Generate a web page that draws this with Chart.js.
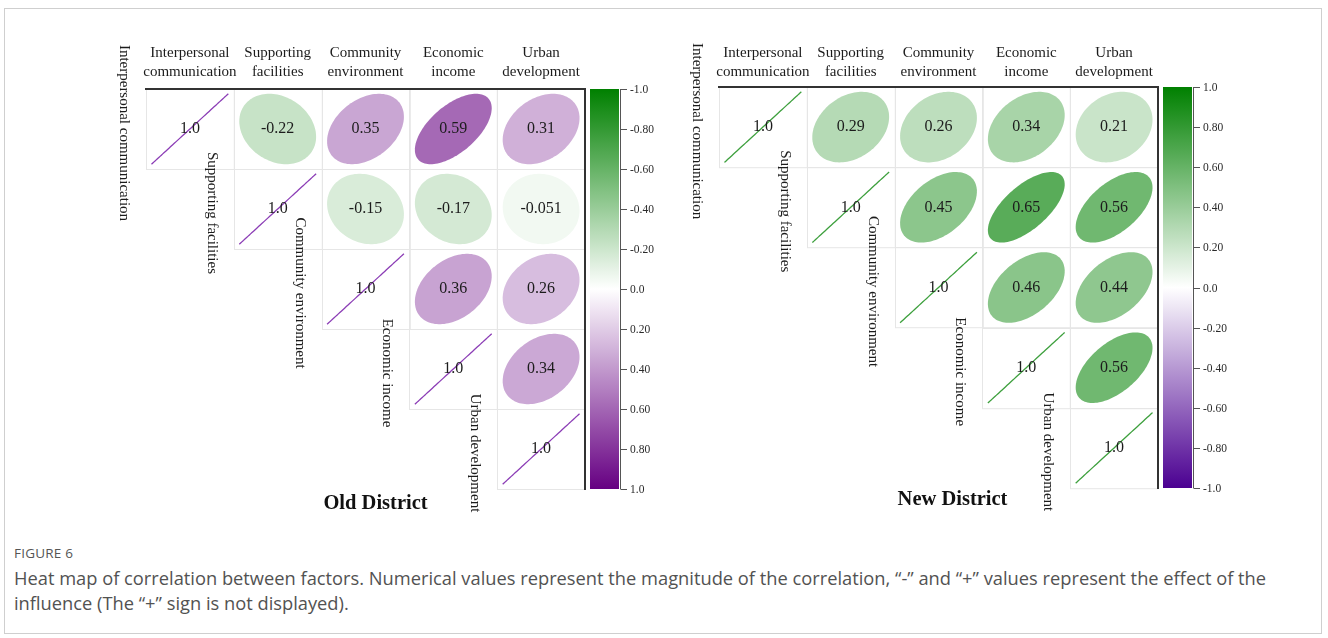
<!DOCTYPE html>
<html>
<head>
<meta charset="utf-8">
<script src="https://cdn.jsdelivr.net/npm/chart.js@4/dist/chart.umd.min.js"></script>
<style>
  html, body { margin: 0; padding: 0; background: #fff; }
  #page { position: relative; width: 1328px; height: 638px; overflow: hidden; background: #fff; }
  #frame { position: absolute; left: 4px; top: 8px; width: 1318px; height: 626px; border: 1px solid #cfcfcf; box-sizing: border-box; }
  canvas { position: absolute; top: 0; }
  #cvOld { left: 0; }
  #cvNew { left: 664px; }
  #figLabel { position: absolute; left: 14px; top: 544px; font-family: "Open Sans", "Noto Sans", sans-serif; font-size: 13.5px; color: #555; letter-spacing: 0.2px; }
  #caption { position: absolute; left: 14px; top: 565px; width: 1310px; white-space: nowrap; font-family: "Open Sans", "Noto Sans", sans-serif; font-size: 18.3px; line-height: 25px; color: #525252; }
</style>
</head>
<body>
<div id="page">
  <div id="frame"></div>
  <canvas id="cvOld" width="664" height="530"></canvas>
  <canvas id="cvNew" width="664" height="530"></canvas>
  <div id="figLabel">FIGURE 6</div>
  <div id="caption">Heat map of correlation between factors. Numerical values represent the magnitude of the correlation, “-” and “+” values represent the effect of the<br>influence (The “+” sign is not displayed).</div>
</div>
<script>
// Factor names (row labels) and the two-line column headers
const factors = ["Interpersonal communication", "Supporting facilities", "Community environment", "Economic income", "Urban development"];
const columnHeaders = [["Interpersonal", "communication"], ["Supporting", "facilities"], ["Community", "environment"], ["Economic", "income"], ["Urban", "development"]];

// Upper-triangle correlations, each row starts at the diagonal
const oldDistrict = [
  [1.0, -0.22, 0.35, 0.59, 0.31],
  [1.0, -0.15, -0.17, -0.051],
  [1.0, 0.36, 0.26],
  [1.0, 0.34],
  [1.0]
];
const newDistrict = [
  [1.0, 0.29, 0.26, 0.34, 0.21],
  [1.0, 0.45, 0.65, 0.56],
  [1.0, 0.46, 0.44],
  [1.0, 0.56],
  [1.0]
];

// Colour bar ticks
const colorbarTicks = [-1.0, -0.8, -0.6, -0.4, -0.2, 0.0, 0.2, 0.4, 0.6, 0.8, 1.0];
const colorbarLabels = ["-1.0", "-0.80", "-0.60", "-0.40", "-0.20", "0.0", "0.20", "0.40", "0.60", "0.80", "1.0"];

const SERIF = '"Liberation Serif", "Times New Roman", serif';

function toPoints(rows) {
  const pts = [];
  rows.forEach((row, i) => row.forEach((v, k) => pts.push({ x: i + k, y: i, v: v })));
  return pts;
}

function mix(end, t) {
  const c = end.map(e => Math.round(255 + (e - 255) * t));
  return `rgb(${c[0]},${c[1]},${c[2]})`;
}

function fmt(v) {
  return Math.abs(v) === 1 ? v.toFixed(1) : String(v);
}

// corrplot-style ellipse: x = cos(t + d/2)/2, y = cos(t - d/2)/2 with d = acos(rho)
function ellipsePath(ctx, cx, cy, w, h, rho) {
  const d = Math.acos(Math.max(-1, Math.min(1, rho)));
  ctx.beginPath();
  const n = 120;
  for (let k = 0; k <= n; k++) {
    const t = (2 * Math.PI * k) / n;
    const px = cx + w * Math.cos(t + d / 2) / 2;
    const py = cy - h * Math.cos(t - d / 2) / 2;
    if (k === 0) ctx.moveTo(px, py); else ctx.lineTo(px, py);
  }
  ctx.closePath();
}

const corrPlugin = {
  id: 'corrPlot',
  beforeDatasetsDraw(chart) {
    const { ctx, scales: { x, y } } = chart;
    const n = factors.length;
    ctx.save();
    // light cell borders of the upper triangle
    ctx.strokeStyle = '#e6e6e6';
    ctx.lineWidth = 1;
    for (let i = 0; i < n; i++) {
      for (let j = i; j < n; j++) {
        const l = x.getPixelForValue(j - 0.5), r = x.getPixelForValue(j + 0.5);
        const t = y.getPixelForValue(i - 0.5), b = y.getPixelForValue(i + 0.5);
        ctx.strokeRect(Math.round(l) + 0.5, Math.round(t) + 0.5, r - l, b - t);
      }
    }
    ctx.restore();
  },
  afterDatasetsDraw(chart) {
    const { ctx, chartArea: a, scales: { x, y, cb } } = chart;
    const p = chart.options.plugins.corrPlot;
    const meta = chart.getDatasetMeta(0);
    const pts = chart.data.datasets[0].data;
    const cw = x.getPixelForValue(1) - x.getPixelForValue(0);
    const ch = y.getPixelForValue(1) - y.getPixelForValue(0);
    ctx.save();
    pts.forEach((pt, idx) => {
      const el = meta.data[idx];
      const ew = cw * 0.875, eh = ch * 0.88;
      if (pt.x === pt.y) {
        ellipsePath(ctx, el.x, el.y, ew, eh, pt.v);
        ctx.strokeStyle = p.lineColor;
        ctx.lineWidth = 1.3;
        ctx.stroke();
      } else {
        ellipsePath(ctx, el.x, el.y, ew, eh, pt.v);
        ctx.fillStyle = mix(pt.v >= 0 ? p.pos : p.neg, Math.abs(pt.v));
        ctx.fill();
      }
      ctx.fillStyle = '#1c1c1c';
      ctx.font = `16px ${SERIF}`;
      ctx.textAlign = 'center';
      ctx.textBaseline = 'middle';
      ctx.fillText(fmt(pt.v), el.x, el.y);
    });

    // frame on top and right
    ctx.strokeStyle = '#333';
    ctx.lineWidth = 2;
    ctx.beginPath();
    ctx.moveTo(a.left - 1, a.top);
    ctx.lineTo(a.right, a.top);
    ctx.lineTo(a.right, a.bottom + 1);
    ctx.stroke();

    // column headers
    ctx.fillStyle = '#1c1c1c';
    ctx.font = `15px ${SERIF}`;
    ctx.textAlign = 'center';
    ctx.textBaseline = 'middle';
    columnHeaders.forEach((lines, j) => {
      const px = x.getPixelForValue(j);
      ctx.fillText(lines[0], px, p.headerY[0]);
      ctx.fillText(lines[1], px, p.headerY[1]);
    });

    // row labels, rotated, left of each diagonal cell
    factors.forEach((name, i) => {
      const px = x.getPixelForValue(i - 0.5) - 22;
      const py = y.getPixelForValue(i) + 4;
      ctx.save();
      ctx.translate(px, py);
      ctx.rotate(Math.PI / 2);
      ctx.fillText(name, 0, 0);
      ctx.restore();
    });

    // colour bar
    const bx = a.right + 5, bw = 29;
    const top = cb.getPixelForValue(cb.options.reverse ? -1 : 1);
    const bot = cb.getPixelForValue(cb.options.reverse ? 1 : -1);
    const grad = ctx.createLinearGradient(0, top, 0, bot);
    for (let s = 0; s <= 40; s++) {
      const v = -1 + s * 0.05;
      const pos = (cb.getPixelForValue(v) - top) / (bot - top);
      grad.addColorStop(Math.min(1, Math.max(0, pos)), mix(v >= 0 ? p.pos : p.neg, Math.abs(v)));
    }
    ctx.fillStyle = grad;
    ctx.fillRect(bx, top, bw, bot - top);
    ctx.strokeStyle = '#555';
    ctx.lineWidth = 1;
    ctx.beginPath();
    ctx.moveTo(bx + bw + 1.5, top);
    ctx.lineTo(bx + bw + 1.5, bot);
    ctx.stroke();
    ctx.font = `11.5px ${SERIF}`;
    ctx.textAlign = 'left';
    ctx.fillStyle = '#2a2a2a';
    colorbarTicks.forEach((v, k) => {
      const py = Math.round(cb.getPixelForValue(v)) + 0.5;
      ctx.beginPath();
      ctx.moveTo(bx + bw + 1.5, py);
      ctx.lineTo(bx + bw + 8, py);
      ctx.stroke();
      ctx.fillText(colorbarLabels[k], bx + bw + 11, py);
    });

    // panel title
    ctx.fillStyle = '#111';
    ctx.font = `bold 20.5px ${SERIF}`;
    ctx.textAlign = 'center';
    ctx.fillText(p.title, (a.left + a.right) / 2 + p.titleDx, p.titleY);
    ctx.restore();
  }
};

function makePanel(id, rows, cfg) {
  return new Chart(document.getElementById(id), {
    type: 'scatter',
    data: { datasets: [{ data: toPoints(rows), pointRadius: 0, pointHoverRadius: 0 }] },
    options: {
      responsive: false,
      animation: false,
      devicePixelRatio: 1,
      events: [],
      layout: { padding: cfg.padding },
      scales: {
        x: { type: 'linear', min: -0.5, max: 4.5, display: false },
        y: { type: 'linear', min: -0.5, max: 4.5, reverse: true, display: false },
        cb: { type: 'linear', axis: 'y', position: 'right', min: -1, max: 1, reverse: cfg.cbReverse, display: false }
      },
      plugins: {
        legend: { display: false },
        tooltip: { enabled: false },
        corrPlot: cfg
      }
    },
    plugins: [corrPlugin]
  });
}

makePanel('cvOld', oldDistrict, {
  padding: { left: 146, top: 89, right: 79, bottom: 41 },
  pos: [102, 0, 130], neg: [0, 128, 0], lineColor: 'rgb(140,62,182)',
  cbReverse: true, title: 'Old District', titleDx: 10, titleY: 504, headerY: [53, 72]
});
makePanel('cvNew', newDistrict, {
  padding: { left: 55, top: 87, right: 170, bottom: 42 },
  pos: [0, 128, 0], neg: [75, 0, 145], lineColor: 'rgb(62,160,62)',
  cbReverse: false, title: 'New District', titleDx: 14, titleY: 500, headerY: [53, 72]
});
</script>
</body>
</html>
